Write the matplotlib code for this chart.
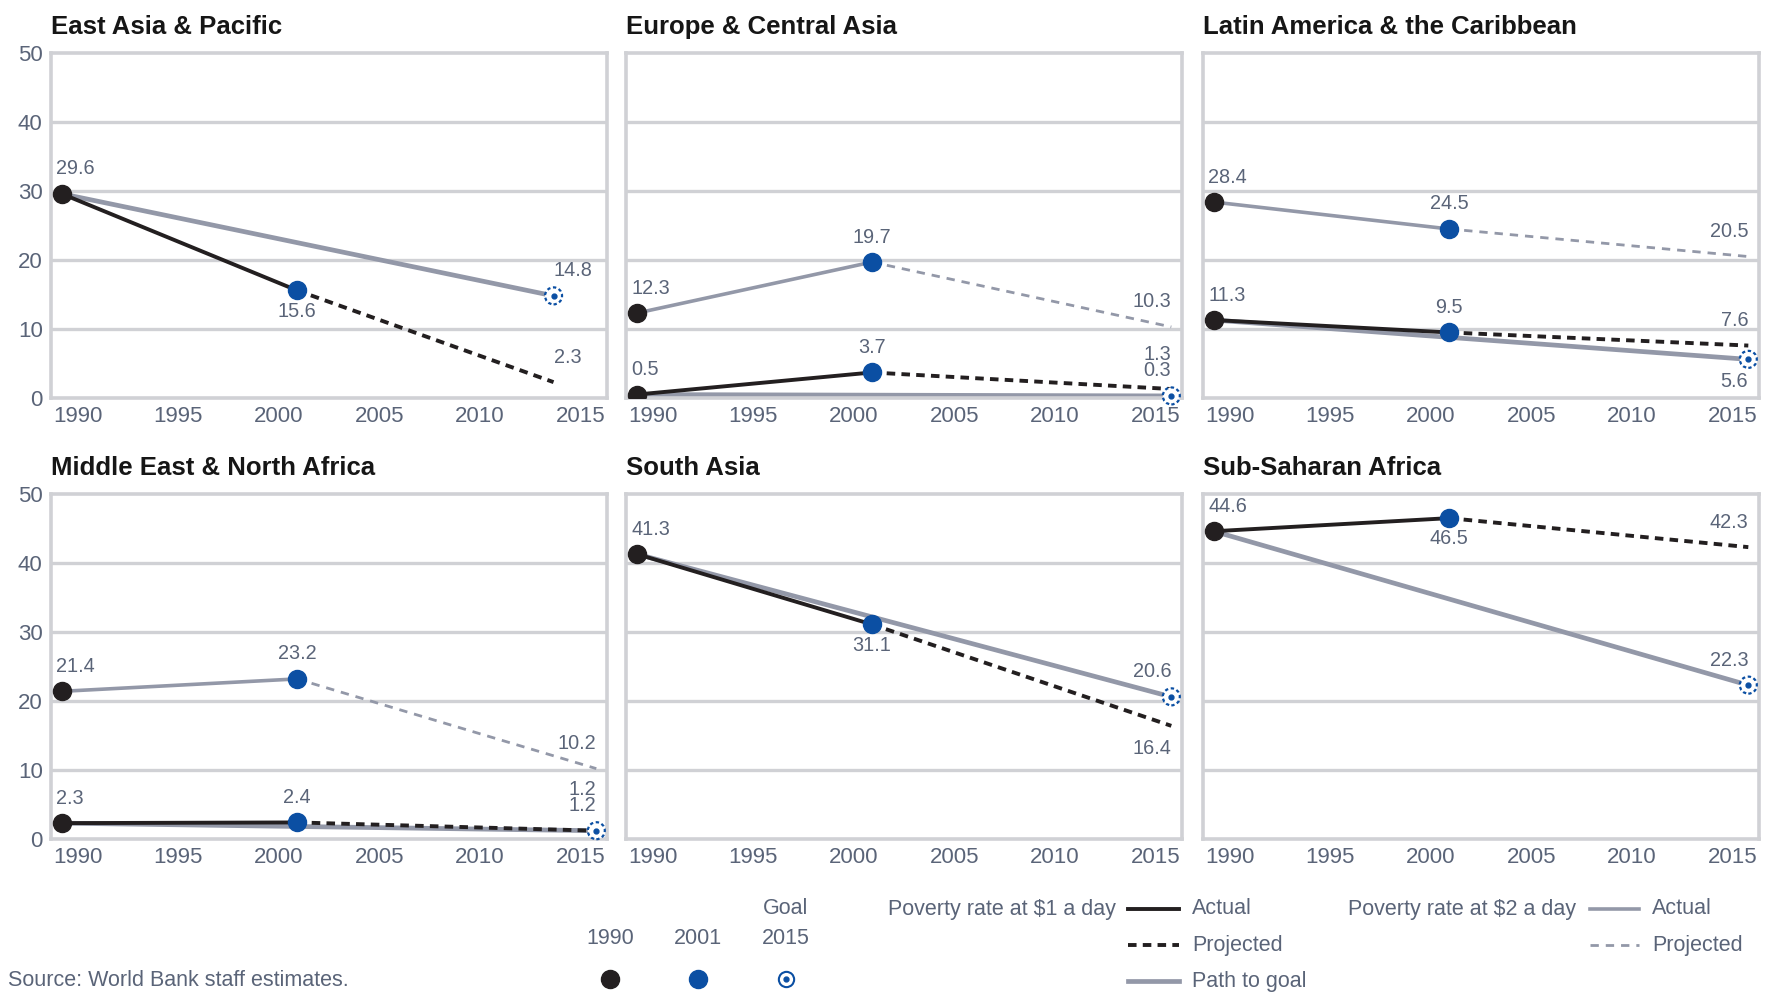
import matplotlib
matplotlib.use('Agg')
import matplotlib.pyplot as plt
from matplotlib.lines import Line2D

# 지역별 빈곤율 (%), 1990 / 2001 / 2015 전망 / 2015 목표
regions = ['East Asia & Pacific', 'Europe & Central Asia', 'Latin America & the Caribbean',
           'Middle East & North Africa', 'South Asia', 'Sub-Saharan Africa']
end_years = [2013, 2015, 2015, 2015, 2015, 2015]

# $1 a day
usd1_1990 = [29.6, 0.5, 11.3, 2.3, 41.3, 44.6]
usd1_2001 = [15.6, 3.7, 9.5, 2.4, 31.1, 46.5]
usd1_proj = [2.3, 1.3, 7.6, 1.2, 16.4, 42.3]
usd1_goal = [14.8, 0.3, 5.6, 1.2, 20.6, 22.3]

# $2 a day (3 regions only)
usd2_1990 = [None, 12.3, 28.4, 21.4, None, None]
usd2_2001 = [None, 19.7, 24.5, 23.2, None, None]
usd2_proj = [None, 10.3, 20.5, 10.2, None, None]

year_labels = ['1990', '1995', '2000', '2005', '2010', '2015']
y_ticks = [0, 10, 20, 30, 40, 50]

# label placement: a = above, b = below, top = stacked above goal label
place1_2001 = ['b', 'a', 'a', 'a', 'b', 'b']
place1_proj = ['a', 'top', 'a', 'top', 'b', 'a']
place1_goal = ['a', 'a', 'b', 'a', 'a', 'a']

BLACK = '#231f20'
BLUE = '#0b4fa3'
GRAY = '#9398a8'
GRID = '#d0d1d5'
TXT = '#5a6478'

plt.rcParams['font.family'] = ['Liberation Sans', 'DejaVu Sans']

W, H = 1769, 992
fig = plt.figure(figsize=(W / 100, H / 100), dpi=100)

lefts = [51, 626, 1203]
tops = [53, 494]
aw, ah = 556, 345


def lab(ax, x, y, s, dy, ha='center', dx=0):
    ax.annotate(s, (x, y), xytext=(dx, dy), textcoords='offset points',
                ha=ha, va='center', fontsize=14.3, color=TXT, zorder=6)


for i, name in enumerate(regions):
    r, c = divmod(i, 3)
    ax = fig.add_axes([lefts[c] / W, 1 - (tops[r] + ah) / H, aw / W, ah / H])
    x_end = end_years[i]
    right = x_end == 2015
    end_ha = 'right' if right else 'left'

    # gridlines
    for g in y_ticks[1:-1]:
        ax.axhline(g, color=GRID, lw=2.4, zorder=0)
    for sp in ax.spines.values():
        sp.set_color(GRID)
        sp.set_linewidth(2.6)

    # $2 a day
    if usd2_1990[i] is not None:
        ax.plot([1990, 2001], [usd2_1990[i], usd2_2001[i]], color=GRAY, lw=2.6, zorder=2)
        ax.plot([2001, x_end], [usd2_2001[i], usd2_proj[i]], color=GRAY, lw=2.0,
                dashes=(3, 2.5), zorder=2)
        ax.plot(1990, usd2_1990[i], 'o', color=BLACK, ms=13, zorder=5)
        ax.plot(2001, usd2_2001[i], 'o', color=BLUE, ms=13, zorder=5)
        lab(ax, 1990, usd2_1990[i], f'{usd2_1990[i]}', 18, 'left', -4)
        lab(ax, 2001, usd2_2001[i], f'{usd2_2001[i]}', 18)
        lab(ax, x_end, usd2_proj[i], f'{usd2_proj[i]}', 18, end_ha)

    # path to goal
    ax.plot([1990, x_end], [usd1_1990[i], usd1_goal[i]], color=GRAY, lw=3.4, zorder=2)
    # $1 a day actual + projected
    ax.plot([1990, 2001], [usd1_1990[i], usd1_2001[i]], color=BLACK, lw=2.8, zorder=3)
    ax.plot([2001, x_end], [usd1_2001[i], usd1_proj[i]], color=BLACK, lw=2.8,
            dashes=(2.2, 1.6), zorder=3)
    ax.plot(1990, usd1_1990[i], 'o', color=BLACK, ms=13, zorder=5)
    ax.plot(2001, usd1_2001[i], 'o', color=BLUE, ms=13, zorder=5)
    ax.scatter([x_end], [usd1_goal[i]], s=150, facecolor='white', edgecolor=BLUE,
               linewidths=1.6, linestyle=(0, (1.5, 1.2)), zorder=5, clip_on=False)
    ax.plot(x_end, usd1_goal[i], 'o', color=BLUE, ms=3.5, zorder=6, clip_on=False)

    lab(ax, 1990, usd1_1990[i], f'{usd1_1990[i]}', 18, 'left', -4)
    lab(ax, 2001, usd1_2001[i], f'{usd1_2001[i]}', 18 if place1_2001[i] == 'a' else -15)
    p = place1_proj[i]
    if p == 'top':
        lab(ax, x_end, usd1_goal[i], f'{usd1_proj[i]}', 30, end_ha)
    else:
        lab(ax, x_end, usd1_proj[i], f'{usd1_proj[i]}', 18 if p == 'a' else -16, end_ha)
    lab(ax, x_end, usd1_goal[i], f'{usd1_goal[i]}', 18 if place1_goal[i] == 'a' else -16, end_ha)

    ax.set_xlim(1989.5, 2015.5)
    ax.set_ylim(0, 50)
    ax.set_xticks([1990.75 + k * 4.7 for k in range(6)])
    ax.set_xticklabels(year_labels)
    ax.set_yticks(y_ticks)
    ax.tick_params(length=0, labelsize=16, labelcolor=TXT, pad=6)
    if c != 0:
        ax.tick_params(labelleft=False)
    ax.text(0, 1.075, name, transform=ax.transAxes, ha='left', va='center',
            fontsize=18.5, fontweight='bold', color='#161616')


# legend (pixel positions of the original layout)
def ft(x, y, s, ha='left', va='center'):
    fig.text(x / W, 1 - y / H, s, ha=ha, va=va, fontsize=15.5, color=TXT)


def fl(x0, x1, y, **kw):
    fig.add_artist(Line2D([x0 / W, x1 / W], [1 - y / H, 1 - y / H], **kw))


ft(610, 938, '1990', 'center')
ft(698, 938, '2001', 'center')
ft(786, 909, 'Goal', 'center')
ft(786, 938, '2015', 'center')
fig.add_artist(Line2D([610 / W], [1 - 979 / H], marker='o', ms=13, color=BLACK, ls='none'))
fig.add_artist(Line2D([698 / W], [1 - 979 / H], marker='o', ms=13, color=BLUE, ls='none'))
fig.add_artist(Line2D([786 / W], [1 - 979 / H], marker='o', ms=11, mfc='white', mec=BLUE,
                      mew=1.5, ls='none'))
fig.add_artist(Line2D([786 / W], [1 - 979 / H], marker='o', ms=3.5, color=BLUE, ls='none'))

ft(888, 909, 'Poverty rate at $1 a day')
fl(1128, 1179, 909, color=BLACK, lw=2.8)
ft(1192, 909, 'Actual')
fl(1128, 1179, 945, color=BLACK, lw=2.8, dashes=(2.2, 1.6))
ft(1192, 945, 'Projected')
fl(1128, 1179, 981, color=GRAY, lw=3.4)
ft(1192, 981, 'Path to goal')

ft(1348, 909, 'Poverty rate at $2 a day')
fl(1590, 1639, 909, color=GRAY, lw=2.6)
ft(1652, 909, 'Actual')
fl(1590, 1639, 945, color=GRAY, lw=2.0, dashes=(3, 2.5))
ft(1652, 945, 'Projected')

ft(8, 981, 'Source: World Bank staff estimates.')

plt.savefig('out.png', dpi=100)
